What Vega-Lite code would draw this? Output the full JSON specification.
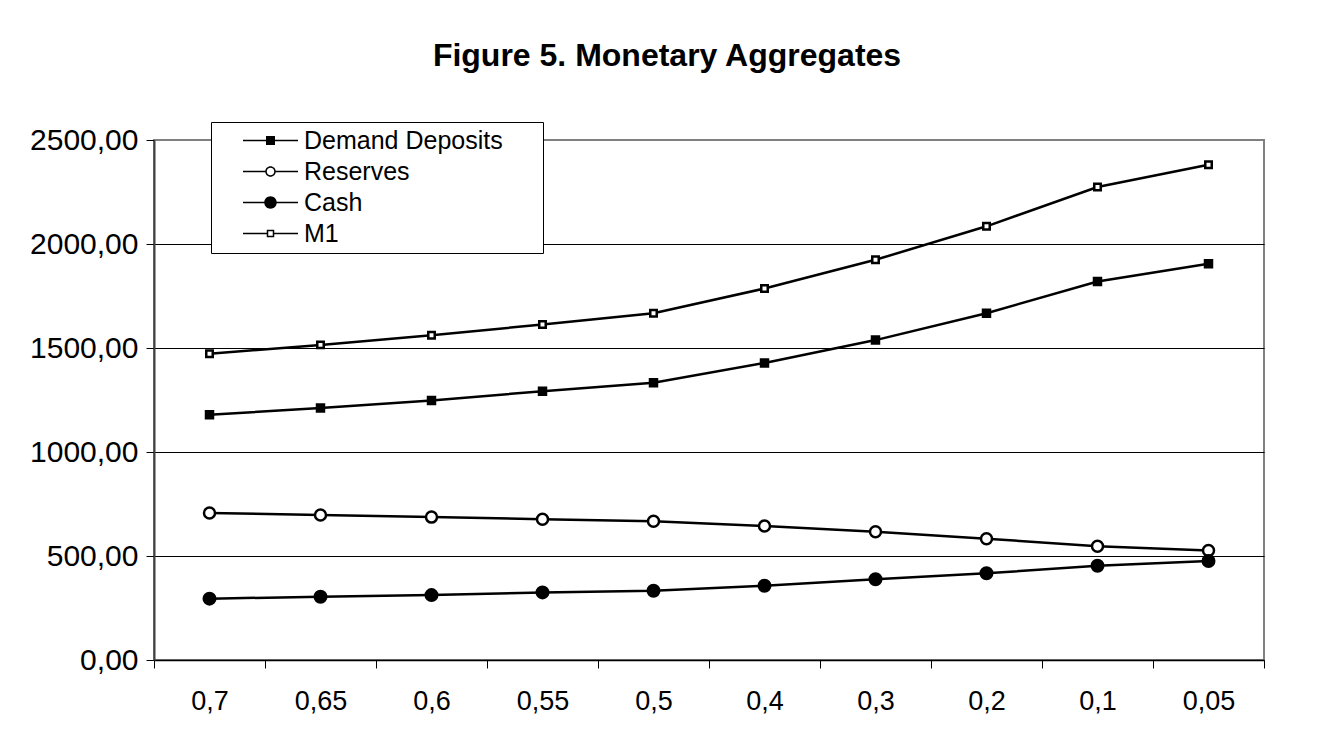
{
  "$schema": "https://vega.github.io/schema/vega-lite/v6.json",
  "width": 1110,
  "height": 520,
  "autosize": {"type": "none"},
  "padding": {"left": 154, "top": 140, "right": 63, "bottom": 80},
  "background": "white",
  "config": {
    "font": "Liberation Sans",
    "view": {"stroke": "#808080", "strokeWidth": 2}
  },
  "title": {
    "text": "Figure 5. Monetary Aggregates",
    "font": "Liberation Sans",
    "fontSize": 32,
    "fontWeight": "bold",
    "color": "black",
    "anchor": "middle",
    "dx": -42,
    "offset": 49
  },
  "data": {
    "values": [
      {"rate": "0,7", "series": "Demand Deposits", "value": 1179},
      {"rate": "0,65", "series": "Demand Deposits", "value": 1212},
      {"rate": "0,6", "series": "Demand Deposits", "value": 1248},
      {"rate": "0,55", "series": "Demand Deposits", "value": 1292},
      {"rate": "0,5", "series": "Demand Deposits", "value": 1333},
      {"rate": "0,4", "series": "Demand Deposits", "value": 1428},
      {"rate": "0,3", "series": "Demand Deposits", "value": 1538},
      {"rate": "0,2", "series": "Demand Deposits", "value": 1667},
      {"rate": "0,1", "series": "Demand Deposits", "value": 1820},
      {"rate": "0,05", "series": "Demand Deposits", "value": 1905},
      {"rate": "0,7", "series": "Reserves", "value": 707},
      {"rate": "0,65", "series": "Reserves", "value": 697},
      {"rate": "0,6", "series": "Reserves", "value": 687},
      {"rate": "0,55", "series": "Reserves", "value": 677},
      {"rate": "0,5", "series": "Reserves", "value": 667},
      {"rate": "0,4", "series": "Reserves", "value": 644},
      {"rate": "0,3", "series": "Reserves", "value": 617},
      {"rate": "0,2", "series": "Reserves", "value": 583},
      {"rate": "0,1", "series": "Reserves", "value": 547},
      {"rate": "0,05", "series": "Reserves", "value": 526},
      {"rate": "0,7", "series": "Cash", "value": 295},
      {"rate": "0,65", "series": "Cash", "value": 304},
      {"rate": "0,6", "series": "Cash", "value": 312},
      {"rate": "0,55", "series": "Cash", "value": 325},
      {"rate": "0,5", "series": "Cash", "value": 333},
      {"rate": "0,4", "series": "Cash", "value": 357},
      {"rate": "0,3", "series": "Cash", "value": 388},
      {"rate": "0,2", "series": "Cash", "value": 417},
      {"rate": "0,1", "series": "Cash", "value": 453},
      {"rate": "0,05", "series": "Cash", "value": 476},
      {"rate": "0,7", "series": "M1", "value": 1472},
      {"rate": "0,65", "series": "M1", "value": 1515},
      {"rate": "0,6", "series": "M1", "value": 1561},
      {"rate": "0,55", "series": "M1", "value": 1613},
      {"rate": "0,5", "series": "M1", "value": 1667},
      {"rate": "0,4", "series": "M1", "value": 1786},
      {"rate": "0,3", "series": "M1", "value": 1924},
      {"rate": "0,2", "series": "M1", "value": 2085},
      {"rate": "0,1", "series": "M1", "value": 2274},
      {"rate": "0,05", "series": "M1", "value": 2381}
    ]
  },
  "encoding": {
    "x": {
      "field": "rate",
      "type": "nominal",
      "sort": ["0,7", "0,65", "0,6", "0,55", "0,5", "0,4", "0,3", "0,2", "0,1", "0,05"],
      "scale": {"type": "band", "paddingInner": 0, "paddingOuter": 0},
      "axis": {
        "title": null,
        "labelAngle": 0,
        "tickBand": "extent",
        "tickSize": 8,
        "tickColor": "black",
        "tickWidth": 1,
        "domainColor": "black",
        "domainWidth": 1.5,
        "labelFont": "Liberation Sans",
        "labelFontSize": 27,
        "labelColor": "black",
        "labelPadding": 20,
        "grid": false
      }
    },
    "y": {
      "field": "value",
      "type": "quantitative",
      "scale": {"domain": [0, 2500], "nice": false, "zero": true},
      "axis": {
        "title": null,
        "values": [0, 500, 1000, 1500, 2000, 2500],
        "labelExpr": "replace(format(datum.value, '.2f'), '.', ',')",
        "tickSize": 8,
        "tickColor": "black",
        "domainColor": "#404040",
        "domainWidth": 2,
        "labelFont": "Liberation Sans",
        "labelFontSize": 30,
        "labelColor": "black",
        "labelPadding": 8,
        "grid": true,
        "gridColor": {"condition": {"test": "datum.value == 2500", "value": "#808080"}, "value": "black"},
        "gridWidth": 1,
        "gridOpacity": 1
      }
    }
  },
  "layer": [
    {
      "mark": {"type": "line", "stroke": "black", "strokeWidth": 2.5},
      "encoding": {"detail": {"field": "series", "type": "nominal"}}
    },
    {
      "transform": [{"filter": "datum.series == 'Demand Deposits'"}],
      "mark": {"type": "point", "shape": "square", "size": 56, "fill": "black", "stroke": "black", "strokeWidth": 2, "opacity": 1}
    },
    {
      "transform": [{"filter": "datum.series == 'Reserves'"}],
      "mark": {"type": "point", "shape": "circle", "size": 121, "fill": "white", "stroke": "black", "strokeWidth": 2.5, "opacity": 1}
    },
    {
      "transform": [{"filter": "datum.series == 'Cash'"}],
      "mark": {"type": "point", "shape": "circle", "size": 144, "fill": "black", "stroke": "black", "strokeWidth": 2, "opacity": 1}
    },
    {
      "transform": [{"filter": "datum.series == 'M1'"}],
      "mark": {"type": "point", "shape": "square", "size": 42, "fill": "white", "stroke": "black", "strokeWidth": 2.5, "opacity": 1}
    },
    {
      "transform": [{"filter": "false"}],
      "mark": {"type": "point", "filled": true, "color": "black", "opacity": 1},
      "encoding": {
        "shape": {
          "field": "series",
          "type": "nominal",
          "scale": {
            "domain": ["Demand Deposits", "Reserves", "Cash", "M1"],
            "range": [
              "M2.7,-0.15H13.7V0.15H2.7ZM7.3,-0.9H9.1V0.9H7.3ZM61.5,0",
              "M2.7,-0.15H7.2V0.15H2.7ZM9.2,-0.15H13.7V0.15H9.2ZM7.15,0A1.05,1.05 0 1,1 9.25,0A1.05,1.05 0 1,1 7.15,0ZM7.45,0A0.75,0.75 0 1,0 8.95,0A0.75,0.75 0 1,0 7.45,0Z",
              "M2.7,-0.15H13.7V0.15H2.7ZM6.95,0A1.25,1.25 0 1,1 9.45,0A1.25,1.25 0 1,1 6.95,0Z",
              "M2.7,-0.15H7.5V0.15H2.7ZM8.9,-0.15H13.7V0.15H8.9ZM7.45,-0.75H8.95V0.75H7.45ZM7.75,-0.45V0.45H8.65V-0.45Z"
            ]
          },
          "legend": {
            "title": null,
            "orient": "none",
            "legendX": 57,
            "legendY": -18,
            "symbolSize": 100,
            "symbolFillColor": "black",
            "symbolStrokeWidth": 0,
            "labelFont": "Liberation Sans",
            "labelFontSize": 25,
            "labelColor": "black",
            "labelOffset": 62,
            "labelLimit": 400,
            "rowPadding": 5,
            "padding": 6,
            "strokeColor": "black",
            "fillColor": "white"
          }
        }
      }
    }
  ]
}
